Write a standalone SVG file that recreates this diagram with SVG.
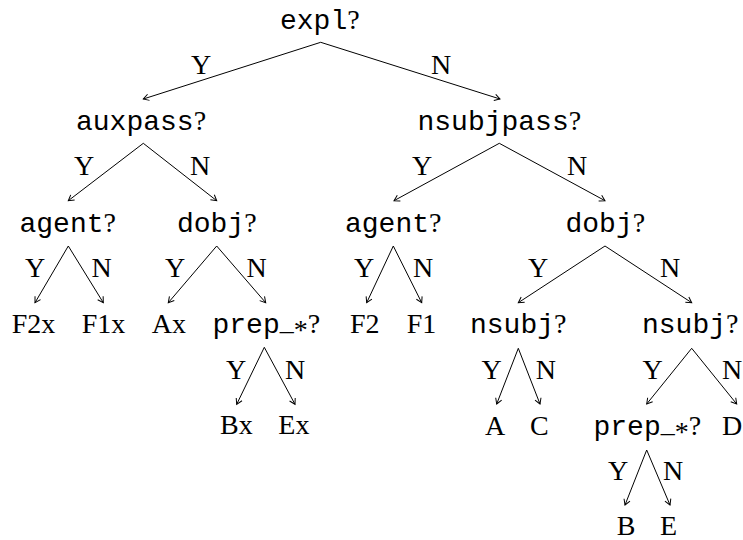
<svg xmlns="http://www.w3.org/2000/svg" width="743" height="540" viewBox="0 0 743 540">
  <defs>
    <style>
      text { font-family: "Liberation Serif", "Times New Roman", serif; font-size: 28px; fill: #000; }
      .tt { font-family: "Liberation Mono", "Courier New", monospace; }
      .lbl { text-anchor: middle; }
      .edge { stroke: #000; stroke-width: 1; fill: none; marker-end: url(#arrow); }
    </style>
    <marker id="arrow" markerUnits="userSpaceOnUse" markerWidth="12" markerHeight="12" viewBox="-7 -6 8 12" refX="0" refY="0" orient="auto">
      <path d="M-5.5,-3.2 L0,0 L-5.5,3.2" fill="none" stroke="#000" stroke-width="1"/>
    </marker>
  </defs>

  <rect width="743" height="540" fill="#fff"/>

  <!-- connectors: each test fans out to its Y and N branches -->
  <g id="connectors">
    <path class="edge" d="M320.7,42.3 L143.3,99"/>
    <path class="edge" d="M320.7,42.3 L500,99"/>

    <path class="edge" d="M143.3,143.3 L68.3,200.7"/>
    <path class="edge" d="M143.3,143.3 L216.7,200.7"/>

    <path class="edge" d="M499.3,143.3 L394,200.7"/>
    <path class="edge" d="M499.3,143.3 L605,200.7"/>

    <path class="edge" d="M68.3,246 L35,302.7"/>
    <path class="edge" d="M68.3,246 L103.3,302.7"/>

    <path class="edge" d="M216.7,246 L168.3,302.7"/>
    <path class="edge" d="M216.7,246 L265.7,302.7"/>

    <path class="edge" d="M393.3,246 L366.7,302.7"/>
    <path class="edge" d="M393.3,246 L421.7,302.7"/>

    <path class="edge" d="M605,246 L518.3,302.7"/>
    <path class="edge" d="M605,246 L691.7,302.7"/>

    <path class="edge" d="M264.3,347.3 L236.7,404.3"/>
    <path class="edge" d="M264.3,347.3 L295,404.3"/>

    <path class="edge" d="M518.3,348.3 L496.7,404"/>
    <path class="edge" d="M518.3,348.3 L540,404"/>

    <path class="edge" d="M691.7,348.3 L646.7,404"/>
    <path class="edge" d="M691.7,348.3 L736.7,404"/>

    <path class="edge" d="M646.7,450 L625,505"/>
    <path class="edge" d="M646.7,450 L670,505"/>
  </g>

  <!-- branch labels -->
  <g id="branch-labels">
    <text class="lbl" x="201" y="74">Y</text>
    <text class="lbl" x="441" y="74">N</text>

    <text class="lbl" x="84" y="175">Y</text>
    <text class="lbl" x="200" y="175">N</text>
    <text class="lbl" x="422" y="175">Y</text>
    <text class="lbl" x="577" y="175">N</text>

    <text class="lbl" x="35" y="277">Y</text>
    <text class="lbl" x="101.7" y="277">N</text>
    <text class="lbl" x="175" y="277">Y</text>
    <text class="lbl" x="256.7" y="277">N</text>
    <text class="lbl" x="364" y="277">Y</text>
    <text class="lbl" x="423" y="277">N</text>
    <text class="lbl" x="538" y="277">Y</text>
    <text class="lbl" x="670" y="277">N</text>

    <text class="lbl" x="236" y="378.5">Y</text>
    <text class="lbl" x="295" y="378.5">N</text>
    <text class="lbl" x="491.7" y="379">Y</text>
    <text class="lbl" x="545.8" y="379">N</text>
    <text class="lbl" x="652.5" y="379">Y</text>
    <text class="lbl" x="732" y="379">N</text>

    <text class="lbl" x="618" y="480">Y</text>
    <text class="lbl" x="673" y="480">N</text>
  </g>

  <!-- tests -->
  <g id="n-expl"><text x="280" y="29"><tspan class="tt">expl</tspan>?</text></g>
  <g id="n-auxpass"><text x="76" y="130"><tspan class="tt">auxpass</tspan>?</text></g>
  <g id="n-nsubjpass"><text x="417.5" y="130"><tspan class="tt">nsubjpass</tspan>?</text></g>
  <g id="n-agent-1"><text x="19.5" y="231.5"><tspan class="tt">agent</tspan>?</text></g>
  <g id="n-dobj-1"><text x="177" y="231.5"><tspan class="tt">dobj</tspan>?</text></g>
  <g id="n-agent-2"><text x="345" y="231.5"><tspan class="tt">agent</tspan>?</text></g>
  <g id="n-dobj-2"><text x="565.5" y="231.5"><tspan class="tt">dobj</tspan>?</text></g>
  <g id="n-prep-1"><text x="212.5" y="332.5"><tspan class="tt">prep</tspan><tspan dy="-3">_</tspan><tspan dy="9">*</tspan><tspan dy="-6">?</tspan></text></g>
  <g id="n-nsubj-1"><text x="470" y="332.5"><tspan class="tt">nsubj</tspan>?</text></g>
  <g id="n-nsubj-2"><text x="642" y="332.5"><tspan class="tt">nsubj</tspan>?</text></g>
  <g id="n-prep-2"><text x="593.5" y="435"><tspan class="tt">prep</tspan><tspan dy="-3">_</tspan><tspan dy="9">*</tspan><tspan dy="-6">?</tspan></text></g>

  <!-- outcomes -->
  <g id="n-F2x"><text x="11.7" y="332.5">F2x</text></g>
  <g id="n-F1x"><text x="81.7" y="332.5">F1x</text></g>
  <g id="n-Ax"><text x="151.7" y="332.5">Ax</text></g>
  <g id="n-F2"><text x="350" y="332.5">F2</text></g>
  <g id="n-F1"><text x="406.7" y="332.5">F1</text></g>
  <g id="n-Bx"><text x="220" y="434">Bx</text></g>
  <g id="n-Ex"><text x="278.3" y="434">Ex</text></g>
  <g id="n-A"><text x="485" y="435">A</text></g>
  <g id="n-C"><text x="530" y="435">C</text></g>
  <g id="n-D"><text x="722" y="435">D</text></g>
  <g id="n-B"><text x="616.7" y="535">B</text></g>
  <g id="n-E"><text x="660" y="535">E</text></g>
</svg>
